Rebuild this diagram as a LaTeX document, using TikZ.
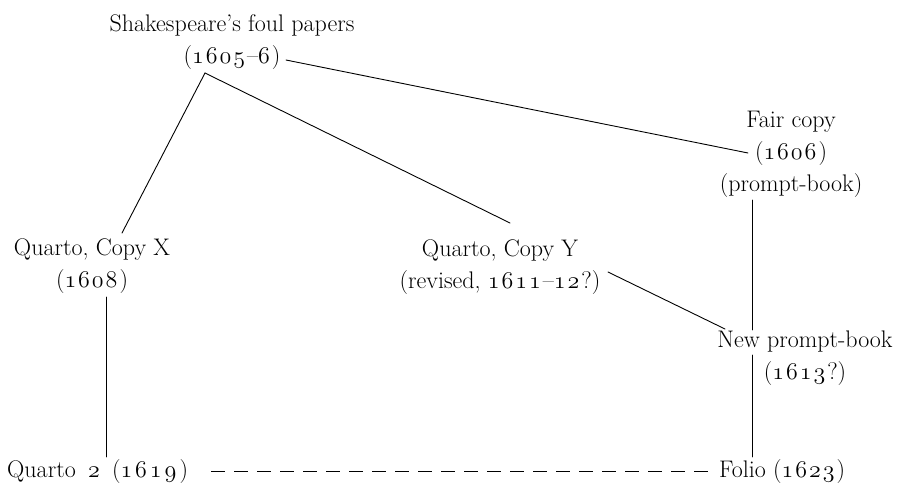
\RequirePackage{fix-cm}
\documentclass[tikz,border=0pt]{standalone}
\def\osfloop#1{\ifx#1\relax\else#1\kern2pt\expandafter\osfloop\fi}
\newcommand\osf[1]{{\usefont{OML}{cmm}{m}{it}\osfloop#1\relax}}
\def\osfloopw#1{\ifx#1\relax\else#1\kern3pt\expandafter\osfloopw\fi}
\newcommand\osfw[1]{{\usefont{OML}{cmm}{m}{it}\osfloopw#1\relax}}
\tikzset{
  lbl/.style={align=center, inner sep=0pt, anchor=base, font=\fontsize{24}{32}\selectfont},
  lblw/.style={lbl, anchor=base west},
  link/.style={line width=0.9pt, line cap=round}
}
\begin{document}
\begin{tikzpicture}[x=1pt,y=-1pt]
\fill[white] (0,0) rectangle (902,485);
\useasboundingbox (0,0) rectangle (902,485);

% base anchor = baseline of the last line
\node[lbl] (foul) at (232,63) {Shakespeare’s foul papers\\(\osf{1605}--\osf{6})};
\node[lbl] (qx) at (92,287) {Quarto, Copy X\\(\osf{1608})};
\node[lbl] (qy) at (500,288) {Quarto, Copy Y\\(revised, \osf{1611}--\osf{12}?)};
\node[lbl] (fair) at (791,191) {Fair copy\\(\osf{1606})\\(prompt-book)};
\node[lbl] (npb) at (805,379) {New prompt-book\\(\osf{1613}?)};
\node[lblw] (q2) at (7,477) {Quarto\hspace{5pt} \osf{2}\hspace{3pt} (\osfw{1619})};
\node[lblw] (folio) at (719,477) {Folio (\osf{1623})};

\draw[link] ([shift={(-27,10)}]foul.base) -- ([shift={(30,-54)}]qx.base);
\draw[link] ([shift={(-27,10)}]foul.base) -- ([shift={(10,-65)}]qy.base);
\draw[link] ([shift={(54,-3)}]foul.base) -- ([shift={(-43,-38)}]fair.base);
\draw[link] ([shift={(-39,9)}]fair.base) -- ([shift={(-53,-49)}]npb.base);
\draw[link] ([shift={(108,-16)}]qy.base) -- ([shift={(-80,-50)}]npb.base);
\draw[link] ([shift={(-53,-24)}]npb.base) -- ([shift={(33,-20)}]folio.base west);
\draw[link] ([shift={(14,10)}]qx.base) -- ([shift={(99,-20)}]q2.base west);
\draw[link, line cap=butt, dash pattern=on 14pt off 9pt] ([shift={(204,-6)}]q2.base west) -- ([shift={(-11,-6)}]folio.base west);
\end{tikzpicture}
\end{document}
